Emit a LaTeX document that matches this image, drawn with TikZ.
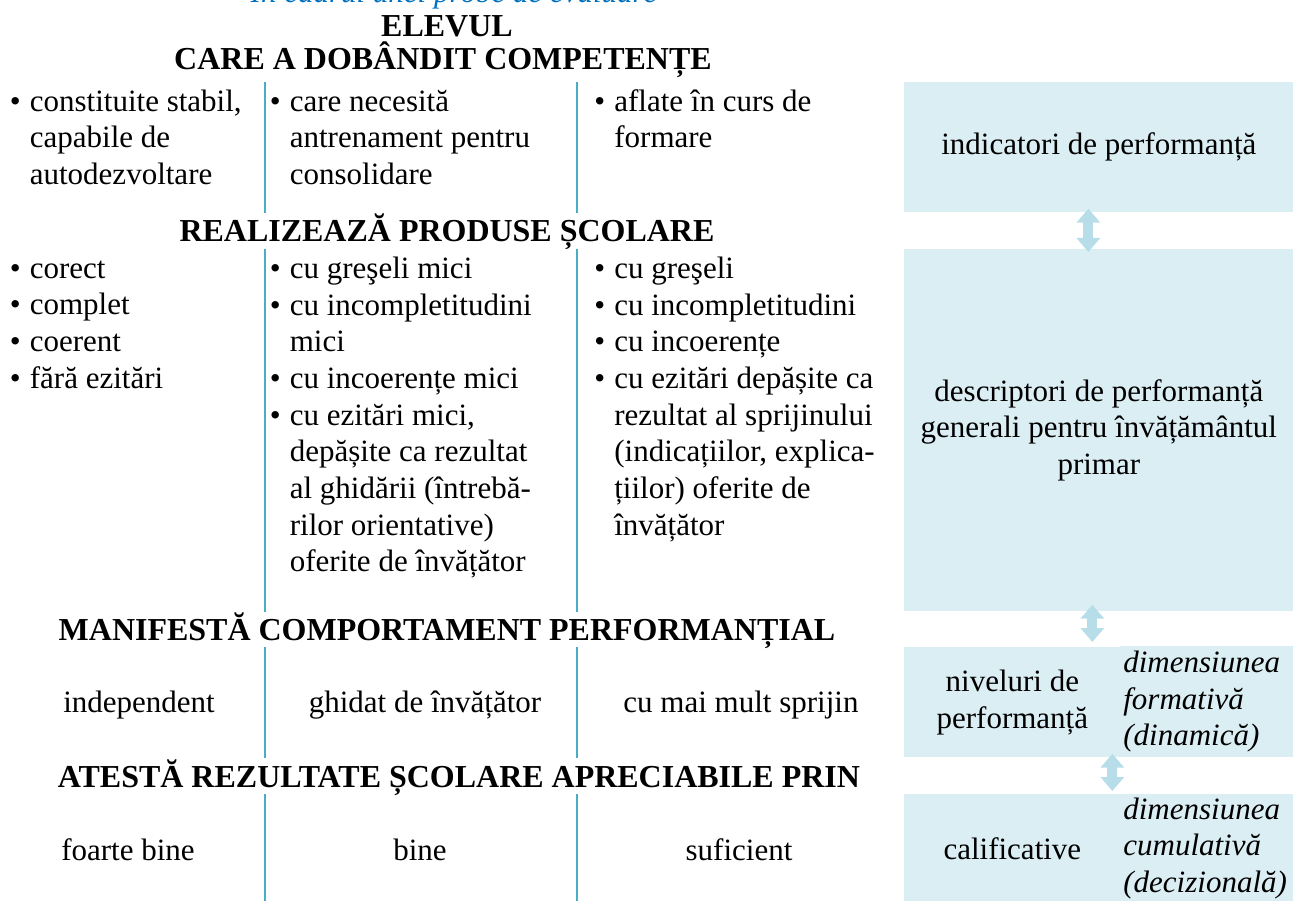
\documentclass[tikz,border=0pt]{standalone}
\usepackage{fontspec}
\setmainfont{Liberation Serif}
\usepackage{tikz}
\usetikzlibrary{positioning,arrows.meta,calc}
\definecolor{panelblue}{RGB}{219,238,244}
\definecolor{arrowblue}{RGB}{183,222,232}
\definecolor{sepblue}{RGB}{75,172,198}
\definecolor{titleblue}{RGB}{0,112,192}
\newcommand{\txtfont}{\fontsize{17.64pt}{20.87pt}\selectfont}
\newcommand{\hdfont}{\fontsize{18.2pt}{20.87pt}\selectfont\bfseries}
\newcommand{\bul}{\strut\makebox[0.4cm][l]{\textbullet}}
\newcommand{\cont}{\strut\hspace*{0.4cm}}

\begin{document}
\begin{tikzpicture}[
  head/.style={font=\hdfont, inner sep=0pt, anchor=base},
  col/.style={font=\txtfont, align=left, anchor=north west, inner sep=0pt},
  cell/.style={font=\txtfont, inner sep=0pt, anchor=base},
  panel/.style={fill=panelblue, anchor=north west, font=\txtfont, align=center, inner sep=0pt},
  side/.style={panel, align=left, inner xsep=0.06cm, text width=3.34cm, font=\txtfont\itshape},
  sep/.style={draw=sepblue, line width=1.1pt},
  dbl/.style={{Triangle[width=0.46cm,length=0.28cm]}-{Triangle[width=0.46cm,length=0.28cm]}, line width=0.2cm, draw=arrowblue},
]
  \useasboundingbox (0,0) rectangle (25.86,18);

  \node[panel, minimum width=7.78cm, minimum height=2.60cm] (ind) at (18.08,16.36) {indicatori de performanță};
  \node[panel, minimum width=7.78cm, minimum height=7.24cm] (desc) at (18.08,13.02) {descriptori de performanță\\generali pentru învățământul\\primar};
  \node[panel, minimum width=4.32cm, minimum height=2.20cm] (nivL) at (18.08,5.06) {niveluri de\\performanță};
  \node[side, minimum width=3.46cm, minimum height=2.22cm] (nivR) at (22.40,5.08) {dimensiunea\\formativă\\(dinamică)};
  \node[panel, minimum width=4.32cm, minimum height=2.16cm] (calL) at (18.08,2.12) {calificative};
  \node[side, minimum width=3.46cm, minimum height=2.16cm] (calR) at (22.40,2.12) {dimensiunea\\cumulativă\\(decizională)};

  \draw[dbl] ($(ind.south)+(-0.21,0.08)$) -- ($(desc.north)+(-0.21,-0.06)$);
  \draw[dbl] ($(desc.south)+(-0.13,0.14)$) -- ($(desc.south |- nivL.north)+(-0.13,0.10)$);
  \draw[dbl] ($(nivL.south)+(2.00,0.08)$) -- ($(calL.north)+(2.00,0.06)$);

  \node[head, font=\txtfont\itshape, text=titleblue] (title) at (9.08,17.94) {În cadrul unei probe de evaluare};
  \node[head] (elev) at (8.94,17.26) {ELEVUL};
  \node[head] (comp) at (8.86,16.60) {CARE A DOBÂNDIT COMPETENȚE};
  \node[head] (prod) at (8.94,13.16) {REALIZEAZĂ PRODUSE ȘCOLARE};
  \node[head] (manif) at (8.94,5.20) {MANIFESTĂ COMPORTAMENT PERFORMANȚIAL};
  \node[head] (atest) at (9.18,2.26) {ATESTĂ REZULTATE ȘCOLARE APRECIABILE PRIN};

  \coordinate (sa) at (5.30,0);
  \coordinate (sb) at (11.54,0);
  \foreach \b in {ind,desc,nivL,calL} {
    \draw[sep] (sa |- \b.north) -- (sa |- \b.south);
    \draw[sep] (sb |- \b.north) -- (sb |- \b.south);
  }

  \node[col] (stab) at (0.19,16.294) {\bul constituite stabil,\\\cont capabile de\\\cont autodezvoltare};
  \node[col] (antr) at (5.39,16.294) {\bul care necesită\\\cont antrenament pentru\\\cont consolidare};
  \node[col] (curs) at (11.88,16.294) {\bul aflate în curs de\\\cont formare};

  \node[col] (cor) at (0.19,12.954) {\bul corect\\\bul complet\\\bul coerent\\\bul fără ezitări};
  \node[col] (mici) at (5.39,12.954) {\bul cu greşeli mici\\\bul cu incompletitudini\\\cont mici\\\bul cu incoerențe mici\\\bul cu ezitări mici,\\\cont depășite ca rezultat\\\cont al ghidării (întrebă-\\\cont rilor orientative)\\\cont oferite de învățător};
  \node[col] (gres) at (11.88,12.954) {\bul cu greşeli\\\bul cu incompletitudini\\\bul cu incoerențe\\\bul cu ezitări depășite ca\\\cont rezultat al sprijinului\\\cont (indicațiilor, explica-\\\cont țiilor) oferite de\\\cont învățător};

  \node[cell] (indep) at (2.78,3.76) {independent};
  \node[cell] (ghid) at (8.50,3.76) {ghidat de învățător};
  \node[cell] (spr) at (14.82,3.76) {cu mai mult sprijin};

  \node[cell] (fb) at (2.56,0.80) {foarte bine};
  \node[cell] (bine) at (8.40,0.80) {bine};
  \node[cell] (suf) at (14.78,0.80) {suficient};
\end{tikzpicture}
\end{document}
